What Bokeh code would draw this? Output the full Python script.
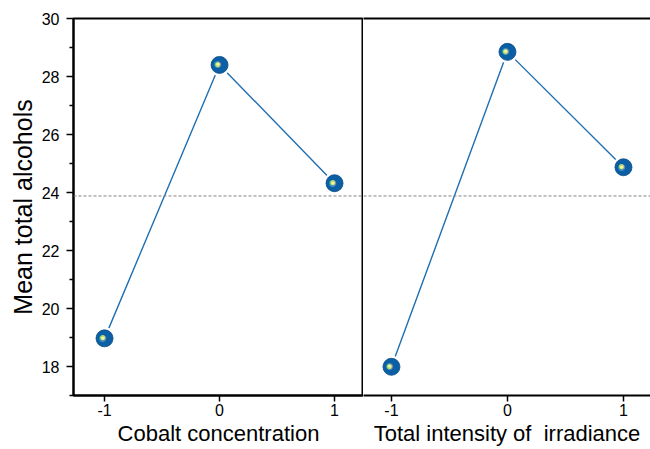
from bokeh.plotting import figure
from bokeh.models import Range1d, FixedTicker, Span, LinearAxis, ColumnDataSource
from bokeh.layouts import row
from bokeh.core.properties import value
from bokeh.embed import file_html
from bokeh.resources import INLINE

# ---- data ----
levels = [-1, 0, 1]
cobalt_means = [18.97, 28.40, 24.32]
irradiance_means = [17.99, 28.85, 24.87]
grand_mean = 23.88
y_major_ticks = [18, 20, 22, 24, 26, 28, 30]
y_minor_ticks = [17, 19, 21, 23, 25, 27, 29]
x_ticks = [-1, 0, 1]
x_tick_labels = {-1: "-1", 0: "0", 1: "1"}
y_title = "Mean total alcohols"
x_titles = ["Cobalt concentration", "Total intensity of\u00a0 irradiance"]

FONT = "Liberation Sans"
LINE_COLOR = "#1f6fb2"
BALL_COLOR = "#0b5fa5"

yr = Range1d(17, 30)


def make_panel(x_range, means, title, width, left_border, with_y):
    p = figure(width=width, height=449, x_range=x_range, y_range=yr,
               output_backend="svg", toolbar_location=None,
               min_border_left=left_border, min_border_right=0,
               min_border_top=18, min_border_bottom=54,
               y_axis_location="left" if with_y else None)
    p.background_fill_color = "white"
    p.border_fill_color = "white"
    p.xgrid.visible = False
    p.ygrid.visible = False

    # x axis
    xa = p.xaxis[0]
    xa.ticker = FixedTicker(ticks=x_ticks)
    xa.major_label_overrides = x_tick_labels
    xa.axis_label = title
    xa.axis_label_text_font = FONT
    xa.axis_label_text_font_style = "normal"
    xa.axis_label_text_font_size = "22px"
    xa.axis_label_text_color = "black"
    xa.axis_label_standoff = 2
    xa.major_label_text_font = FONT
    xa.major_label_text_font_size = "16px"
    xa.major_label_text_color = "black"
    xa.major_label_standoff = 2
    xa.major_tick_out = 6
    xa.major_tick_in = 0
    xa.minor_tick_line_color = None
    xa.axis_line_width = 2
    xa.major_tick_line_width = 1.5
    xa.axis_line_color = "black"

    if with_y:
        ya = p.yaxis[0]
        ya.ticker = FixedTicker(ticks=y_major_ticks, minor_ticks=y_minor_ticks)
        ya.axis_label = y_title
        ya.axis_label_text_font = FONT
        ya.axis_label_text_font_style = "normal"
        ya.axis_label_text_font_size = "25px"
        ya.axis_label_text_color = "black"
        ya.axis_label_standoff = 2
        ya.major_label_text_font = FONT
        ya.major_label_text_font_size = "16px"
        ya.major_label_text_color = "black"
        ya.major_label_standoff = 7
        ya.major_tick_out = 7
        ya.major_tick_in = 0
        ya.minor_tick_out = 4
        ya.minor_tick_in = 0
        ya.axis_line_width = 2
        ya.major_tick_line_width = 1.5
        ya.minor_tick_line_width = 1.5
        ya.axis_line_color = "black"

    # grand mean reference line
    p.add_layout(Span(location=grand_mean, dimension="width",
                      line_color="#808080", line_dash="3 2", line_width=1))

    src = ColumnDataSource(dict(x=levels, y=means))
    p.line("x", "y", source=src, line_color=LINE_COLOR, line_width=1.4)
    # white halo to create the gap between line and ball
    p.scatter("x", "y", source=src, size=22, fill_color="white", line_color=None)
    p.scatter("x", "y", source=src, size=17, fill_color=BALL_COLOR, line_color="#094a85", line_width=0.8)
    p.text("x", "y", source=src, text=value("\u25cf"), text_color="#4f95bf", text_alpha=0.9,
           text_font_size="16px", text_align="center", text_baseline="middle",
           x_offset=-2, y_offset=-1)
    p.text("x", "y", source=src, text=value("\u25cf"), text_color="#b9d96e",
           text_font_size="12px", text_align="center", text_baseline="middle",
           x_offset=-2, y_offset=-1)
    p.text("x", "y", source=src, text=value("\u25cf"), text_color="#f6f6a4",
           text_font_size="7px", text_align="center", text_baseline="middle",
           x_offset=-2, y_offset=-1)
    return p


p1 = make_panel(Range1d(-1.27, 1.252), cobalt_means, x_titles[0], 363, 73, True)
p1.outline_line_color = "black"
p1.outline_line_width = 2
p1.outline_line_alpha = 1.0

p2 = make_panel(Range1d(-1.241, 1.233), irradiance_means, x_titles[1], 287, 0, False)
p2.outline_line_color = None
top = LinearAxis(ticker=FixedTicker(ticks=[]), major_label_text_font_size="0px",
                 major_tick_line_color=None, minor_tick_line_color=None,
                 axis_line_width=2, axis_line_color="black", major_label_standoff=0)
p2.add_layout(top, "above")

layout = row(p1, p2, spacing=0)
open("out.html", "w").write(file_html(layout, INLINE))
